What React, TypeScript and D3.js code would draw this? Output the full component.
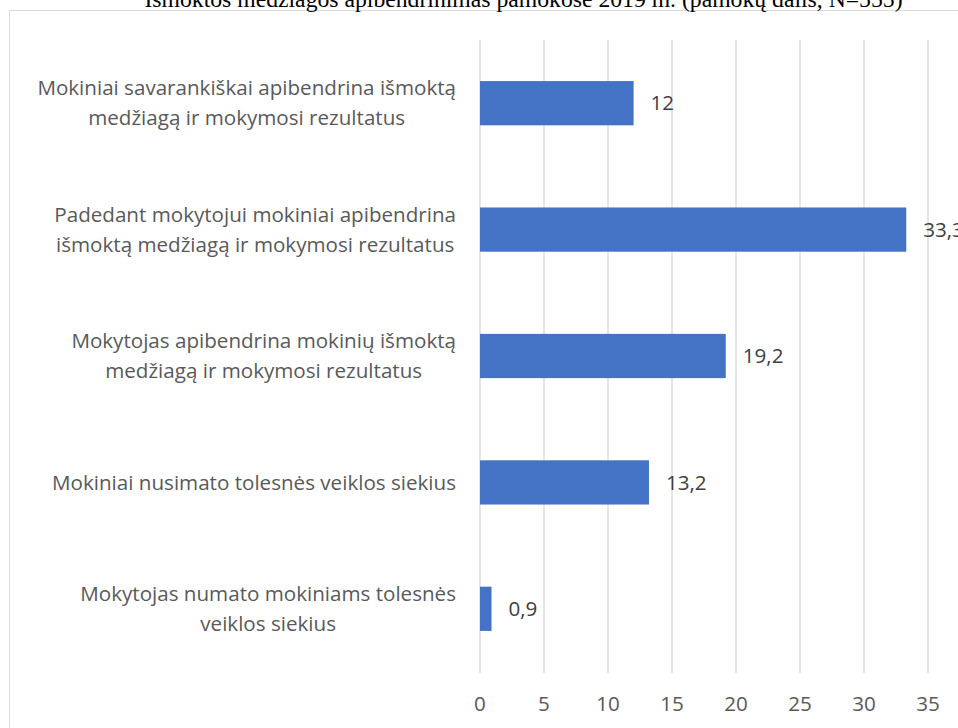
import React, { useEffect, useRef } from 'react';
import * as d3 from 'd3';

const categories = [
  ['Mokiniai savarankiškai apibendrina išmoktą', 'medžiagą ir mokymosi rezultatus'],
  ['Padedant mokytojui mokiniai apibendrina', 'išmoktą medžiagą ir mokymosi rezultatus'],
  ['Mokytojas apibendrina mokinių išmoktą', 'medžiagą ir mokymosi rezultatus'],
  ['Mokiniai nusimato tolesnės veiklos siekius'],
  ['Mokytojas numato mokiniams tolesnės', 'veiklos siekius'],
];
const values = [12, 33.3, 19.2, 13.2, 0.9];
const ticks = [0, 5, 10, 15, 20, 25, 30, 35];
const title = 'Išmoktos medžiagos apibendrinimas pamokose 2019 m. (pamokų dalis, N=555)';

const FONT = '"Open Sans", sans-serif';
const FS = 20.6;

export default function App() {
  const svgRef = useRef<SVGSVGElement>(null);

  useEffect(() => {
    if (!svgRef.current) return;
    const svg = d3.select(svgRef.current);
    svg.selectAll('*').remove();

    const x = d3.scaleLinear().domain([0, 35]).range([480, 928]);
    const y = d3.scaleBand<number>()
      .domain(d3.range(categories.length))
      .range([40, 672])
      .paddingInner(0.65)
      .paddingOuter(0.325);

    // chart frame
    svg.append('rect')
      .attr('x', 9.5).attr('y', 10.5)
      .attr('width', 1000).attr('height', 800)
      .attr('fill', '#fff').attr('stroke', '#d9d9d9');

    svg.append('text')
      .attr('x', 523.5).attr('y', 7)
      .attr('text-anchor', 'middle')
      .attr('font-family', '"Liberation Serif", "Times New Roman", serif')
      .attr('font-size', 23.7)
      .attr('fill', '#000')
      .text(title);

    svg.append('g').selectAll('line')
      .data(ticks)
      .join('line')
      .attr('x1', d => x(d)).attr('x2', d => x(d))
      .attr('y1', 40).attr('y2', 673)
      .attr('stroke', '#d9d9d9').attr('stroke-width', 1.3);

    svg.append('g').selectAll('rect')
      .data(values)
      .join('rect')
      .attr('x', x(0))
      .attr('y', (_, i) => y(i)!)
      .attr('width', d => x(d) - x(0))
      .attr('height', y.bandwidth())
      .attr('fill', '#4472c4');

    svg.append('g').selectAll('text')
      .data(values)
      .join('text')
      .attr('x', d => x(d) + 17)
      .attr('y', (_, i) => y(i)! + y.bandwidth() / 2)
      .attr('dy', '0.35em')
      .attr('font-family', FONT).attr('font-size', FS)
      .attr('fill', '#404040')
      .text(d => String(d).replace('.', ','));

    svg.append('g').selectAll('text')
      .data(ticks)
      .join('text')
      .attr('x', d => x(d))
      .attr('y', 704)
      .attr('dy', '0.35em')
      .attr('text-anchor', 'middle')
      .attr('font-family', FONT).attr('font-size', FS)
      .attr('fill', '#595959')
      .text(d => d);

    const labels = svg.append('g');
    categories.forEach((lines, i) => {
      const g = labels.append('g');
      const cy = y(i)! + y.bandwidth() / 2;
      const lh = 30;
      const texts = lines.map((l, j) => g.append('text')
        .attr('y', cy + (j - (lines.length - 1) / 2) * lh)
        .attr('dy', '0.35em')
        .attr('text-anchor', 'middle')
        .attr('font-family', FONT).attr('font-size', FS)
        .attr('fill', '#595959')
        .text(l));
      const w = d3.max(texts, t => (t.node() as SVGTextElement).getComputedTextLength())!;
      const cx = 456 - w / 2;
      texts.forEach(t => t.attr('x', cx));
    });
  }, []);

  return (
    <svg ref={svgRef} width={958} height={728}
      style={{ position: 'absolute', left: 0, top: 0, background: '#fff' }} />
  );
}
